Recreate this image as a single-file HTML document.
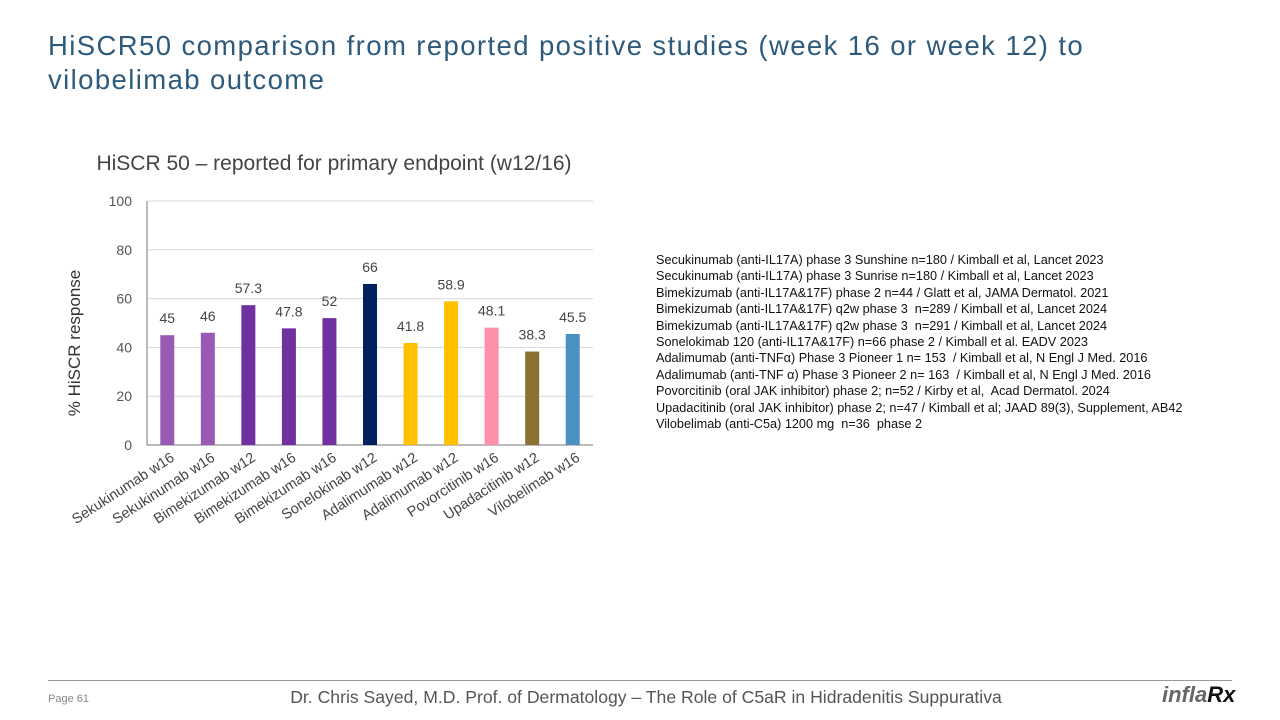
<!DOCTYPE html>
<html><head><meta charset="utf-8"><style>
body{margin:0;width:1280px;height:720px;background:#fff;position:relative;overflow:hidden;font-family:"Liberation Sans",sans-serif}
.t{position:absolute;margin:0}
#title{left:48px;top:29px;font-size:27.5px;letter-spacing:1.4px;color:#2e5b7b;line-height:34px;font-weight:normal}
#refs{left:656px;top:252px;font-size:12.7px;color:#111;line-height:16.4px;white-space:pre}
#footer{left:0;width:1292px;top:687px;text-align:center;font-size:17.6px;color:#555}
#page{left:48px;top:693px;font-size:11px;color:#888}
#logo{left:1162px;top:682px;font-size:22px;font-style:italic;font-weight:bold;color:#666}
</style></head><body>
<h1 class="t" id="title">HiSCR50 comparison from reported positive studies (week 16 or week 12) to<br>vilobelimab outcome</h1>
<svg id="chart" width="1280" height="720" style="position:absolute;left:0;top:0"></svg>
<div class="t" id="refs">Secukinumab (anti-IL17A) phase 3 Sunshine n=180 / Kimball et al, Lancet 2023
Secukinumab (anti-IL17A) phase 3 Sunrise n=180 / Kimball et al, Lancet 2023
Bimekizumab (anti-IL17A&amp;17F) phase 2 n=44 / Glatt et al, JAMA Dermatol. 2021
Bimekizumab (anti-IL17A&amp;17F) q2w phase 3  n=289 / Kimball et al, Lancet 2024
Bimekizumab (anti-IL17A&amp;17F) q2w phase 3  n=291 / Kimball et al, Lancet 2024
Sonelokimab 120 (anti-IL17A&amp;17F) n=66 phase 2 / Kimball et al. EADV 2023
Adalimumab (anti-TNFα) Phase 3 Pioneer 1 n= 153  / Kimball et al, N Engl J Med. 2016
Adalimumab (anti-TNF α) Phase 3 Pioneer 2 n= 163  / Kimball et al, N Engl J Med. 2016
Povorcitinib (oral JAK inhibitor) phase 2; n=52 / Kirby et al,  Acad Dermatol. 2024
Upadacitinib (oral JAK inhibitor) phase 2; n=47 / Kimball et al; JAAD 89(3), Supplement, AB42
Vilobelimab (anti-C5a) 1200 mg  n=36  phase 2</div>
<div style="position:absolute;left:48px;top:680px;width:1184px;height:1px;background:#999"></div>
<div class="t" id="page">Page 61</div>
<div class="t" id="footer">Dr. Chris Sayed, M.D. Prof. of Dermatology – The Role of C5aR in Hidradenitis Suppurativa</div>
<div class="t" id="logo">infla<span style="color:#111">Rx</span></div>
<script>
const categories=["Sekukinumab w16","Sekukinumab w16","Bimekizumab w12","Bimekizumab w16","Bimekizumab w16","Sonelokinab w12","Adalimumab w12","Adalimumab w12","Povorcitinib w16","Upadacitinib w12","Vilobelimab w16"];
const values=[45,46,57.3,47.8,52,66,41.8,58.9,48.1,38.3,45.5];
const labels=["45","46","57.3","47.8","52","66","41.8","58.9","48.1","38.3","45.5"];
const colors=["#9b59b6","#9b59b6","#7030a0","#7030a0","#7030a0","#002060","#ffc000","#ffc000","#ff8fa8","#8b7232","#4a90c0"];
const ticks=[0,20,40,60,80,100];
const ns="http://www.w3.org/2000/svg",svg=document.getElementById('chart');
const X0=147,X1=593,Y0=445,Y1=201;
const y=v=>Y0-(v/100)*(Y0-Y1);
const slot=(X1-X0)/categories.length;
const x=i=>X0+slot*(i+0.5);
function mk(t,a,txt){const e=document.createElementNS(ns,t);for(const k in a)e.setAttribute(k,a[k]);if(txt!=null)e.textContent=txt;svg.appendChild(e);return e;}
let e=mk('text',{x:334,y:170,'text-anchor':'middle','font-size':21,fill:'#444','font-family':'Liberation Sans, sans-serif'},'HiSCR 50 – reported for primary endpoint (w12/16)');


ticks.forEach(t=>{
 const g=mk('line',{x1:X0,x2:X1,y1:y(t),y2:y(t),stroke:t?'#d9d9d9':'#777','stroke-width':1});
 
 
 const l=mk('text',{x:132,y:y(t)+5,'text-anchor':'end','font-size':14,fill:'#555'},String(t));
 
 
});
e=mk('line',{x1:X0,x2:X0,y1:Y1,y2:Y0,stroke:'#777'});


e=mk('text',{x:0,y:0,transform:'translate(80,343) rotate(-90)','text-anchor':'middle','font-size':17,fill:'#333'},'% HiSCR response');


values.forEach((v,i)=>{
 const b=mk('rect',{x:x(i)-7,y:y(v),width:14,height:Y0-y(v),fill:colors[i]});
 
 
 const t=mk('text',{x:x(i),y:y(v)-12,'text-anchor':'middle','font-size':14,fill:'#444'},labels[i]);
 
 
 const c=mk('text',{x:0,y:0,transform:`translate(${x(i)+8},${Y0+15}) rotate(-33)`,'text-anchor':'end','font-size':14.5,fill:'#444'},categories[i]);
 
 
});
</script>
</body></html>
